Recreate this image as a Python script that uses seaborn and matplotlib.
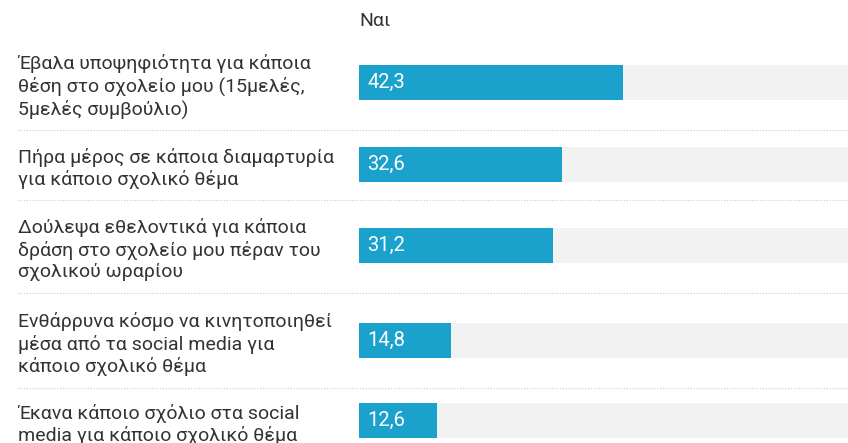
import matplotlib
matplotlib.use("Agg")
import matplotlib.pyplot as plt
from matplotlib.lines import Line2D
import seaborn as sns
import numpy as np

# data
labels = [
    "Έβαλα υποψηφιότητα για κάποια\nθέση στο σχολείο μου (15μελές,\n5μελές συμβούλιο)",
    "Πήρα μέρος σε κάποια διαμαρτυρία\nγια κάποιο σχολικό θέμα",
    "Δούλεψα εθελοντικά για κάποια\nδράση στο σχολείο μου πέραν του\nσχολικού ωραρίου",
    "Ενθάρρυνα κόσμο να κινητοποιηθεί\nμέσα από τα social media για\nκάποιο σχολικό θέμα",
    "Έκανα κάποιο σχόλιο στα social\nmedia για κάποιο σχολικό θέμα",
]
values = [42.3, 32.6, 31.2, 14.8, 12.6]
value_labels = ["42,3", "32,6", "31,2", "14,8", "12,6"]
header = "Ναι"
full = [100] * len(values)

# layout (pixel rows, as in the html table)
W, H = 848, 443
row_y = [82.5, 164.5, 245.5, 340.0, 420.5]
sep_y = [130, 199.5, 292.5, 387.5]
bar_px = 35
x0_px = 359
px_per_unit = 6.23

sns.set_theme(style="white")
plt.rcParams["font.family"] = ["Roboto", "DejaVu Sans"]

fig = plt.figure(figsize=(W / 100, H / 100), dpi=100)
ax = fig.add_axes([x0_px / W, 0, 1 - x0_px / W, 1])

min_gap = np.min(np.diff(sorted(row_y)))
w = bar_px / min_gap
sns.barplot(x=full, y=row_y, orient="h", native_scale=True, color="#f2f2f2",
            width=w, saturation=1, ax=ax, linewidth=0)
sns.barplot(x=values, y=row_y, orient="h", native_scale=True, color="#1aa2cd",
            width=w, saturation=1, ax=ax, linewidth=0)

ax.set_xlim(0, (W - x0_px) / px_per_unit)
ax.set_ylim(H, 0)
ax.axis("off")

for y, t in zip(row_y, value_labels):
    ax.annotate(t, xy=(0, y), xytext=(8, 0), textcoords="offset pixels",
                ha="left", va="center", color="white", fontsize=14.5)

for y, t in zip(row_y, labels):
    fig.text(18 / W, 1 - (y + 4) / H, t, ha="left", va="center",
             color="#333333", fontsize=14, linespacing=1.23)

fig.text(x0_px / W, 1 - 21 / H, header, ha="left", va="center",
         color="#333333", fontsize=14)

for y in sep_y:
    fig.add_artist(Line2D([18 / W, 1], [1 - y / H, 1 - y / H],
                          color="#cccccc", lw=0.8, ls=(0, (1, 1.5))))

fig.savefig("out.png", dpi=100)
